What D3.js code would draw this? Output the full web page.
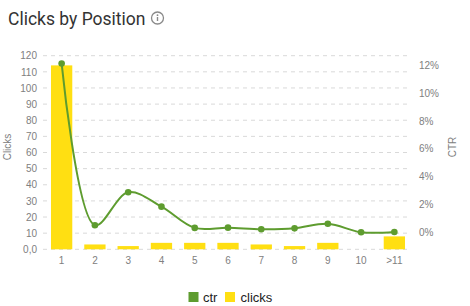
<!DOCTYPE html>
<html><head><meta charset="utf-8">
<script src="https://cdn.jsdelivr.net/npm/d3@7"></script>
<style>body{margin:0;background:#fff;}svg{display:block;font-family:"Liberation Sans",Arial,sans-serif;}</style>
</head><body>
<svg id="c" width="470" height="306"></svg>
<script>
const categories = ["1","2","3","4","5","6","7","8","9","10",">11"];
const clicks = [114, 3, 2, 4, 4, 4, 3, 2, 4, 0, 8];
const ctr = [12.1, 0.53, 2.89, 1.86, 0.34, 0.36, 0.24, 0.31, 0.64, 0.03, 0.05];
const clickTicks = [0,10,20,30,40,50,60,70,80,90,100,110,120];
const ctrTicks = [0,2,4,6,8,10,12];

const svg = d3.select("#c");
const plotTop = 55.7, plotBottom = 249.3, plotLeft = 45, plotRight = 411;
const green = "#5e9c2f", yellow = "#ffdf12";

const x = d3.scaleBand().domain(categories).range([plotLeft, plotRight]).paddingInner(0.36).paddingOuter(0.18);
const yL = d3.scaleLinear().domain([0,120]).range([plotBottom, plotTop]);
const yR = d3.scaleLinear().domain([-1.19, 12.66]).range([plotBottom, plotTop]);

// title
svg.append("text").attr("x",8).attr("y",24.5).attr("font-size",17.5).attr("fill","#333")
  .attr("font-family","Roboto, sans-serif").attr("font-weight",400).text("Clicks by Position");
const ic = svg.append("g").attr("transform","translate(157.5,18)");
ic.append("circle").attr("r",6).attr("fill","none").attr("stroke","#8a8a8a").attr("stroke-width",1.3);
ic.append("circle").attr("cx",0).attr("cy",-2.8).attr("r",0.9).attr("fill","#8a8a8a");
ic.append("rect").attr("x",-0.7).attr("y",-1).attr("width",1.4).attr("height",4).attr("fill","#8a8a8a");

// grid
svg.append("g").selectAll("line").data(clickTicks).join("line")
  .attr("x1",plotLeft-2).attr("x2",plotRight).attr("y1",d=>yL(d)).attr("y2",d=>yL(d))
  .attr("stroke","#d9d9d9").attr("stroke-dasharray","4,4").attr("stroke-width",1);

// left axis
const axL = svg.append("g").attr("transform",`translate(${plotLeft-8},0)`)
  .call(d3.axisLeft(yL).tickValues(clickTicks).tickSize(0).tickPadding(0).tickFormat(d=>d===0?"0,0":d));
axL.select(".domain").remove();
axL.selectAll("text").attr("fill","#808080").attr("font-size",10).attr("font-family","'Liberation Sans',Arial,sans-serif");

// right axis
const axR = svg.append("g").attr("transform",`translate(${plotRight+8},0)`)
  .call(d3.axisRight(yR).tickValues(ctrTicks).tickSize(0).tickPadding(0).tickFormat(d=>d+"%"));
axR.select(".domain").remove();
axR.selectAll("text").attr("fill","#808080").attr("font-size",10).attr("font-family","'Liberation Sans',Arial,sans-serif");

// bottom axis
const axB = svg.append("g").attr("transform",`translate(0,${plotBottom+6})`)
  .call(d3.axisBottom(x).tickSize(0).tickPadding(0));
axB.select(".domain").remove();
axB.selectAll("text").attr("fill","#808080").attr("font-size",10).attr("dy","0.9em").attr("font-family","'Liberation Sans',Arial,sans-serif");

// axis titles
svg.append("text").attr("transform",`translate(11,147) rotate(-90)`).attr("text-anchor","middle")
  .attr("font-size",10).attr("fill","#808080").text("Clicks");
svg.append("text").attr("transform",`translate(456,147) rotate(-90)`).attr("text-anchor","middle")
  .attr("font-size",10).attr("fill","#808080").text("CTR");

// bars
svg.append("g").selectAll("rect").data(categories).join("rect")
  .attr("x",d=>x(d)).attr("width",x.bandwidth())
  .attr("y",(d,i)=>yL(clicks[i])).attr("height",(d,i)=>plotBottom-yL(clicks[i]))
  .attr("fill",yellow);

// line
const pts = categories.map((c,i)=>[x(c)+x.bandwidth()/2, yR(ctr[i])]);
svg.append("path").attr("d", d3.line().curve(d3.curveCatmullRom.alpha(0.5))(pts))
  .attr("fill","none").attr("stroke",green).attr("stroke-width",2);
svg.append("g").selectAll("circle").data(pts).join("circle")
  .attr("cx",d=>d[0]).attr("cy",d=>d[1]).attr("r",3.3).attr("fill",green);

// legend
const lg = svg.append("g").attr("font-size",13).attr("fill","#222");
lg.append("rect").attr("x",188.5).attr("y",292).attr("width",10).attr("height",10).attr("fill",green);
lg.append("text").attr("x",203).attr("y",301.5).text("ctr");
lg.append("rect").attr("x",225).attr("y",292).attr("width",10).attr("height",10).attr("fill",yellow);
lg.append("text").attr("x",240.5).attr("y",301.5).text("clicks");
</script>
</body></html>
